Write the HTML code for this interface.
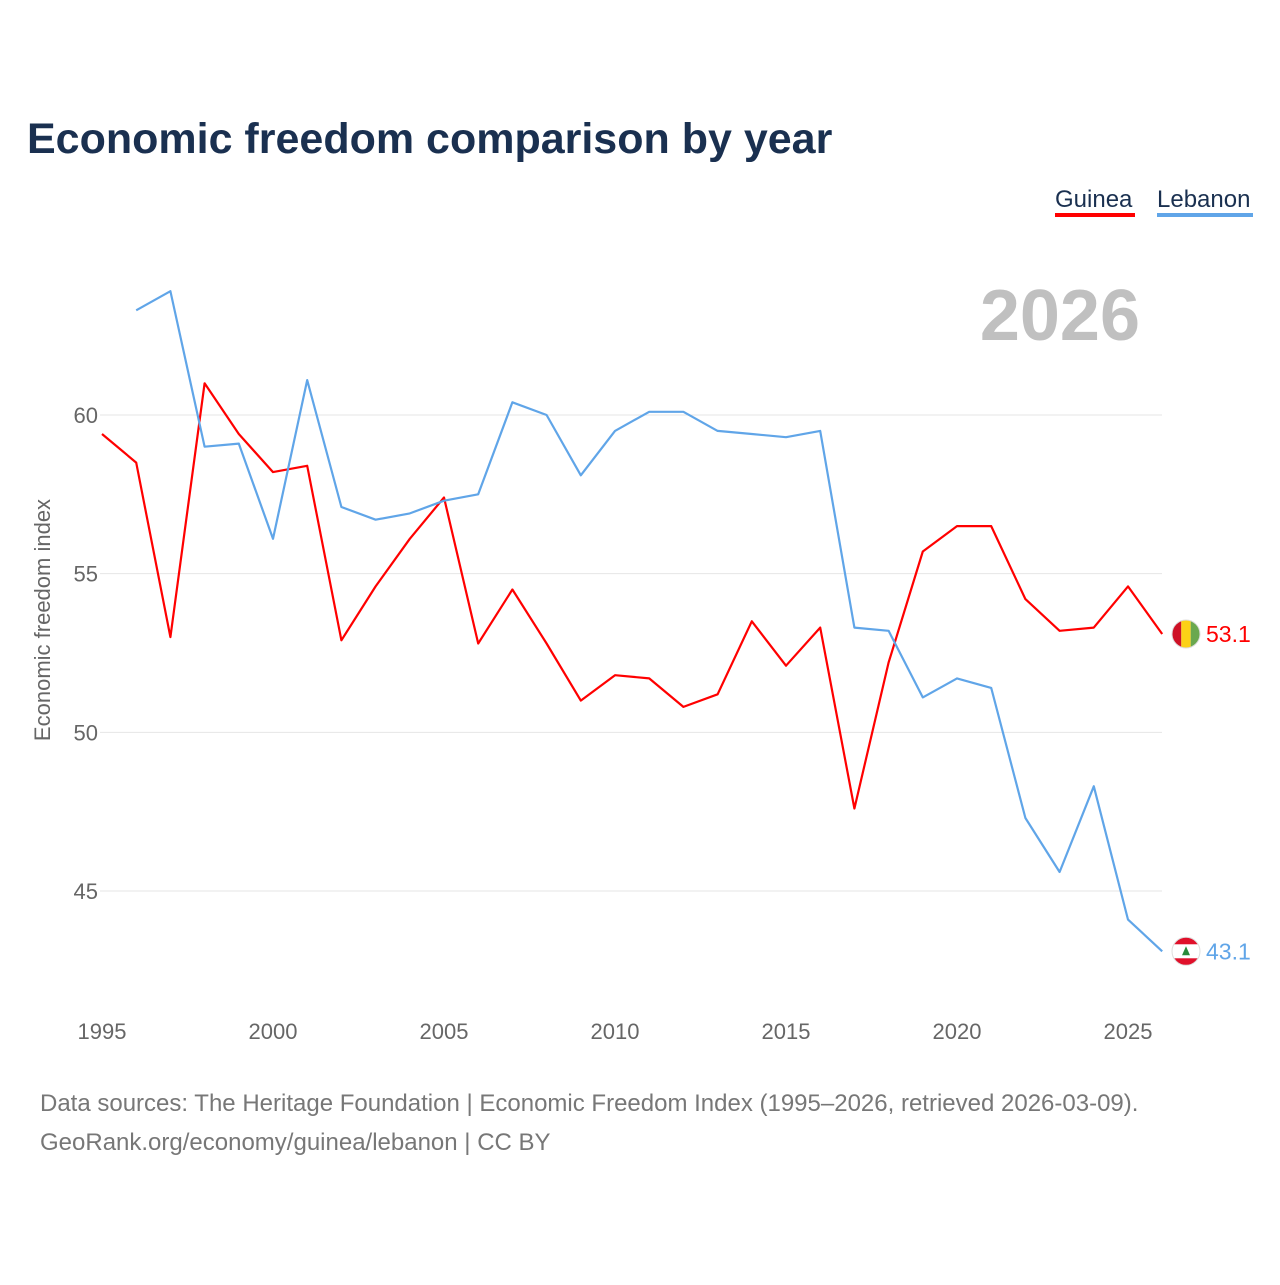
<!DOCTYPE html>
<html><head><meta charset="utf-8"><style>
body{margin:0;background:#fff;width:1280px;height:1280px;overflow:hidden;font-family:"Liberation Sans",sans-serif}
</style></head><body>
<svg width="1280" height="1280" viewBox="0 0 1280 1280" font-family="Liberation Sans, sans-serif">
<text x="27" y="153" font-size="43" font-weight="bold" fill="#1a3050">Economic freedom comparison by year</text>
<g>
<text x="1055" y="207" font-size="24" fill="#1a3050">Guinea</text>
<rect x="1055" y="213" width="80" height="4" fill="#ff0000"/>
<text x="1157" y="207" font-size="24" fill="#1a3050">Lebanon</text>
<rect x="1157" y="213" width="96" height="4" fill="#60a5e8"/>
</g>
<text x="1140" y="340" font-size="72" font-weight="bold" fill="#c0c0c0" text-anchor="end">2026</text>
<defs id="defs"></defs>
<g id="grid"></g><g id="xt"></g><g id="lines"></g>
<text transform="translate(50,620) rotate(-90)" font-size="22" fill="#666" text-anchor="middle">Economic freedom index</text>
<text x="40" y="1111" font-size="24" fill="#777">Data sources: The Heritage Foundation | Economic Freedom Index (1995–2026, retrieved 2026-03-09).</text>
<text x="40" y="1150" font-size="24" fill="#777">GeoRank.org/economy/guinea/lebanon | CC BY</text>
</svg>
<script>
const years=[];for(let y=1995;y<=2026;y++)years.push(y);
const guinea=[59.4,58.5,53.0,61.0,59.4,58.2,58.4,52.9,54.6,56.1,57.4,52.8,54.5,52.8,51.0,51.8,51.7,50.8,51.2,53.5,52.1,53.3,47.6,52.2,55.7,56.5,56.5,54.2,53.2,53.3,54.6,53.1];
const lebanon=[null,63.3,63.9,59.0,59.1,56.1,61.1,57.1,56.7,56.9,57.3,57.5,60.4,60.0,58.1,59.5,60.1,60.1,59.5,59.4,59.3,59.5,53.3,53.2,51.1,51.7,51.4,47.3,45.6,48.3,44.1,43.1];
const yTicks=[45,50,55,60];
const xTicks=[1995,2000,2005,2010,2015,2020,2025];
const NS='http://www.w3.org/2000/svg';
const X=y=>102+(y-1995)*34.2;
const Y=v=>415+(60-v)*31.733;
function mk(t,a,p){const e=document.createElementNS(NS,t);for(const k in a)e.setAttribute(k,a[k]);p.appendChild(e);return e;}
const g=document.getElementById('grid');
yTicks.forEach(v=>{
 const l=mk('line',{x1:100,x2:1162,y1:Y(v),y2:Y(v),stroke:'#e6e6e6','stroke-width':1},g);
 
 
 const t=mk('text',{x:98,y:Y(v)+8,'font-size':22,fill:'#666','text-anchor':'end'},g);t.textContent=v;
 
 
});
const xt=document.getElementById('xt');
xTicks.forEach(v=>{
 const t=mk('text',{x:X(v),y:1039,'font-size':22,fill:'#666','text-anchor':'middle'},xt);t.textContent=v;
 
 
});
const L=document.getElementById('lines');
const defs=document.getElementById('defs');
function series(vals,color,name){
 let d='';let start=true;
 vals.forEach((v,i)=>{if(v==null){start=true;return;}d+=(start?'M':'L')+X(years[i]).toFixed(1)+','+Y(v).toFixed(1);start=false;});
 const p=mk('path',{d:d,fill:'none',stroke:color,'stroke-width':2.2,'stroke-linejoin':'round'},L);
 
 
 const last=vals[vals.length-1];const cy=Y(last);
 const cp=mk('clipPath',{id:'clip-'+name},defs);
 mk('circle',{cx:1186,cy:cy,r:14},cp);
 const fg=mk('g',{'clip-path':'url(#clip-'+name+')'},L);
 
 
 if(name==='guinea'){
  mk('rect',{x:1172,y:cy-14,width:9.3,height:28,fill:'#ce1126'},fg);
  mk('rect',{x:1181.3,y:cy-14,width:9.4,height:28,fill:'#fcd116'},fg);
  mk('rect',{x:1190.7,y:cy-14,width:9.3,height:28,fill:'#6aa84f'},fg);
 }else{
  mk('rect',{x:1172,y:cy-14,width:28,height:28,fill:'#fff'},fg);
  mk('rect',{x:1172,y:cy-14,width:28,height:7,fill:'#e0102a'},fg);
  mk('rect',{x:1172,y:cy+7,width:28,height:7,fill:'#e0102a'},fg);
  mk('polygon',{points:`1186,${cy-5} 1190,${cy+4} 1182,${cy+4}`,fill:'#2a8a3a'},fg);
 }
 mk('circle',{cx:1186,cy:cy,r:14,fill:'none',stroke:'#ddd','stroke-width':1},L);
 const t=mk('text',{x:1206,y:cy+8,'font-size':23,fill:color},L);t.textContent=last.toFixed(1);
 
 
}
series(guinea,'#ff0000','guinea');
series(lebanon,'#60a5e8','lebanon');
</script>
</body></html>
